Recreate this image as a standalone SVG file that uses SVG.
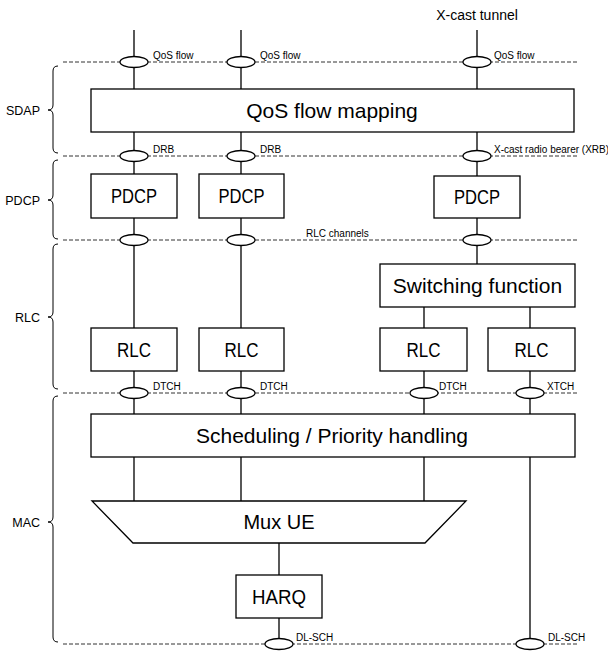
<svg xmlns="http://www.w3.org/2000/svg" width="608" height="652" viewBox="0 0 608 652">
<style>
text{font-family:"Liberation Sans",Arial,sans-serif;fill:#000}
.box{fill:#fff;stroke:#000;stroke-width:1.3}
.big{font-size:20px;text-anchor:middle}
.sm{font-size:10px}
.lay{font-size:12.5px;text-anchor:end}
.dash{stroke:#333;stroke-width:1;stroke-dasharray:4,2;fill:none}
.ln{stroke:#000;stroke-width:1.3;fill:none}
.ell{fill:#fff;stroke:#000;stroke-width:1.3}
.brace{stroke:#000;stroke-width:1;fill:none}
</style>
<g id="layers">
<line class="dash" x1="63" y1="62" x2="577" y2="62"/>
<line class="dash" x1="63" y1="156" x2="577" y2="156"/>
<line class="dash" x1="63" y1="240" x2="577" y2="240"/>
<line class="dash" x1="63" y1="393" x2="577" y2="393"/>
<line class="dash" x1="63" y1="644" x2="577" y2="644"/>
<path class="brace" d="M58,66 Q53,66 53,71 L53,105 Q53,110 48,110 Q53,110 53,115 L53,148 Q53,153 58,153"/>
<path class="brace" d="M58,160 Q53,160 53,165 L53,195 Q53,200 48,200 Q53,200 53,205 L53,234 Q53,239 58,239"/>
<path class="brace" d="M58,244 Q53,244 53,249 L53,312 Q53,317 48,317 Q53,317 53,322 L53,384 Q53,389 58,389"/>
<path class="brace" d="M58,396 Q53,396 53,401 L53,517 Q53,522 48,522 Q53,522 53,527 L53,637 Q53,642 58,642"/>
<text class="lay" x="40" y="115">SDAP</text>
<text class="lay" x="40" y="205">PDCP</text>
<text class="lay" x="40" y="322">RLC</text>
<text class="lay" x="40" y="527">MAC</text>
</g>
<g id="connectors">
<path class="ln" d="M134,30V89M134,132V174M134,218V328M134,371V414M134,457V501"/>
<path class="ln" d="M241,30V89M241,132V174M241,218V328M241,371V414M241,457V501"/>
<path class="ln" d="M477,30V89M477,132V176M477,218V264"/>
<path class="ln" d="M424,307V328M424,371V414M424,457V501"/>
<path class="ln" d="M530,307V328M530,371V414M530,457V644"/>
<path class="ln" d="M279,543V575M279,618V644"/>
</g>
<g id="sap">
<ellipse class="ell" cx="134" cy="62" rx="14" ry="5.5"/>
<ellipse class="ell" cx="241" cy="62" rx="14" ry="5.5"/>
<ellipse class="ell" cx="477" cy="62" rx="14" ry="5.5"/>
<ellipse class="ell" cx="134" cy="156" rx="14" ry="5.5"/>
<ellipse class="ell" cx="241" cy="156" rx="14" ry="5.5"/>
<ellipse class="ell" cx="477" cy="156" rx="14" ry="5.5"/>
<ellipse class="ell" cx="134" cy="240" rx="14" ry="5.5"/>
<ellipse class="ell" cx="241" cy="240" rx="14" ry="5.5"/>
<ellipse class="ell" cx="477" cy="240" rx="14" ry="5.5"/>
<ellipse class="ell" cx="134" cy="393" rx="14" ry="5.5"/>
<ellipse class="ell" cx="241" cy="393" rx="14" ry="5.5"/>
<ellipse class="ell" cx="424" cy="393" rx="14" ry="5.5"/>
<ellipse class="ell" cx="530" cy="393" rx="14" ry="5.5"/>
<ellipse class="ell" cx="279" cy="644" rx="14" ry="5.5"/>
<ellipse class="ell" cx="530" cy="644" rx="14" ry="5.5"/>
<text class="sm" x="153" y="59">QoS flow</text>
<text class="sm" x="260" y="59">QoS flow</text>
<text class="sm" x="494" y="59">QoS flow</text>
<text class="sm" x="153" y="153">DRB</text>
<text class="sm" x="260" y="153">DRB</text>
<text class="sm" x="494" y="153">X-cast radio bearer (XRB)</text>
<text class="sm" x="306" y="237">RLC channels</text>
<text class="sm" x="153" y="390">DTCH</text>
<text class="sm" x="260" y="390">DTCH</text>
<text class="sm" x="439" y="390">DTCH</text>
<text class="sm" x="547" y="390">XTCH</text>
<text class="sm" x="296" y="641">DL-SCH</text>
<text class="sm" x="548" y="641">DL-SCH</text>
<text x="477" y="20" style="font-size:14px;text-anchor:middle">X-cast tunnel</text>
</g>
<g id="qos-mapping">
<rect class="box" x="91" y="89" width="483" height="43"/>
<text class="big" x="332" y="118" style="font-size:21px">QoS flow mapping</text>
</g>
<g id="pdcp1">
<rect class="box" x="91" y="174" width="86" height="44"/>
<text class="big" x="134" y="203" textLength="46" lengthAdjust="spacingAndGlyphs">PDCP</text>
</g>
<g id="pdcp2">
<rect class="box" x="199" y="174" width="85" height="44"/>
<text class="big" x="241.5" y="203" textLength="46" lengthAdjust="spacingAndGlyphs">PDCP</text>
</g>
<g id="pdcp3">
<rect class="box" x="434" y="176" width="86" height="42"/>
<text class="big" x="477" y="204" textLength="46" lengthAdjust="spacingAndGlyphs">PDCP</text>
</g>
<g id="switching">
<rect class="box" x="380" y="264" width="195" height="43"/>
<text class="big" x="477.5" y="293" style="font-size:21px">Switching function</text>
</g>
<g id="rlc1">
<rect class="box" x="91" y="328" width="86" height="43"/>
<text class="big" x="134" y="357" textLength="34" lengthAdjust="spacingAndGlyphs">RLC</text>
</g>
<g id="rlc2">
<rect class="box" x="199" y="328" width="85" height="43"/>
<text class="big" x="241.5" y="357" textLength="34" lengthAdjust="spacingAndGlyphs">RLC</text>
</g>
<g id="rlc3">
<rect class="box" x="380" y="328" width="87" height="43"/>
<text class="big" x="423.5" y="357" textLength="34" lengthAdjust="spacingAndGlyphs">RLC</text>
</g>
<g id="rlc4">
<rect class="box" x="488" y="328" width="87" height="43"/>
<text class="big" x="531.5" y="357" textLength="34" lengthAdjust="spacingAndGlyphs">RLC</text>
</g>
<g id="scheduling">
<rect class="box" x="91" y="414" width="484" height="43"/>
<text class="big" x="332" y="443" style="font-size:21px">Scheduling / Priority handling</text>
</g>
<g id="mux">
<polygon class="box" points="92,501 466,501 425,543 133,543"/>
<text class="big" x="279" y="529">Mux UE</text>
</g>
<g id="harq">
<rect class="box" x="236" y="575" width="86" height="43"/>
<text class="big" x="279" y="604" textLength="54" lengthAdjust="spacingAndGlyphs">HARQ</text>
</g>
</svg>
